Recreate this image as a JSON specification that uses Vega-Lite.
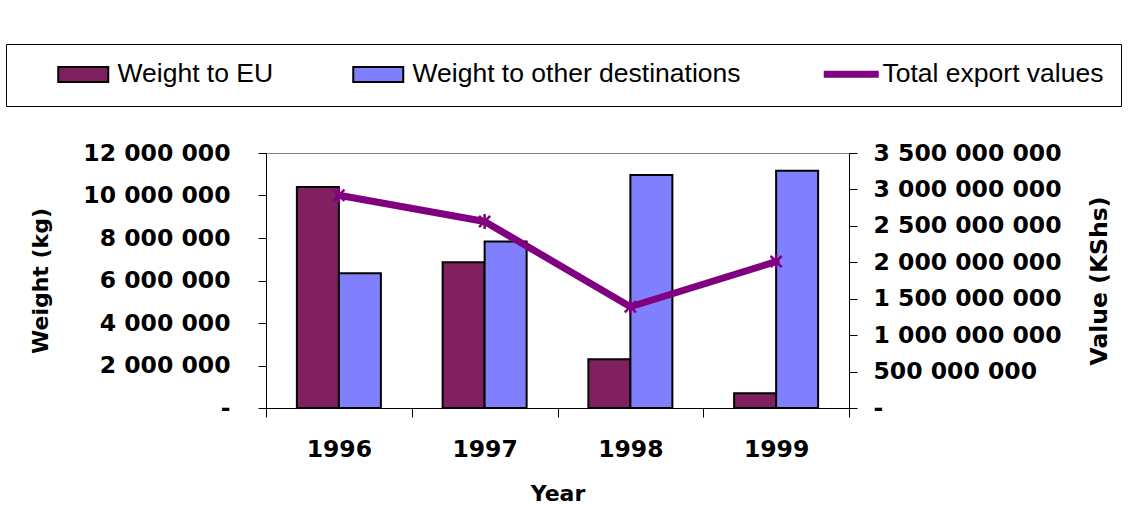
{
  "$schema": "https://vega.github.io/schema/vega-lite/v6.json",
  "width": 583,
  "height": 255,
  "autosize": {"type": "none"},
  "padding": {"left": 266, "top": 153, "right": 284, "bottom": 121},
  "background": "white",
  "datasets": {
    "weights": [
      {"year": "1996", "series": "Weight to EU", "weight": 10400000},
      {"year": "1996", "series": "Weight to other destinations", "weight": 6340000},
      {"year": "1997", "series": "Weight to EU", "weight": 6860000},
      {"year": "1997", "series": "Weight to other destinations", "weight": 7830000},
      {"year": "1998", "series": "Weight to EU", "weight": 2290000},
      {"year": "1998", "series": "Weight to other destinations", "weight": 10960000},
      {"year": "1999", "series": "Weight to EU", "weight": 690000},
      {"year": "1999", "series": "Weight to other destinations", "weight": 11170000}
    ],
    "exports": [
      {"year": "1996", "series": "Total export values", "value": 2920000000},
      {"year": "1997", "series": "Total export values", "value": 2560000000},
      {"year": "1998", "series": "Total export values", "value": 1390000000},
      {"year": "1999", "series": "Total export values", "value": 2010000000}
    ]
  },
  "layer": [
    {
      "data": {"name": "weights"},
      "mark": {"type": "bar", "stroke": "#000", "strokeWidth": 2},
      "encoding": {
        "x": {
          "field": "year", "type": "nominal",
          "scale": {"paddingInner": 0, "paddingOuter": 0},
          "axis": {
            "title": "Year", "labelAngle": 0, "tickBand": "extent", "tickSize": 9,
            "labelPadding": 20, "titlePadding": 23, "grid": false, "labelLimit": 0,
            "domainColor": "#000", "tickColor": "#000",
            "labelFont": "DejaVu Sans", "labelFontWeight": "bold", "labelFontSize": 23.5, "labelColor": "#000",
            "titleFont": "DejaVu Sans", "titleFontWeight": "bold", "titleFontSize": 22, "titleColor": "#000"
          }
        },
        "xOffset": {
          "field": "series", "type": "nominal",
          "scale": {"domain": ["Weight to EU", "Weight to other destinations"], "paddingInner": 0, "paddingOuter": 0.735}
        },
        "y": {
          "field": "weight", "type": "quantitative",
          "scale": {"domain": [0, 12000000], "nice": false},
          "axis": {
            "title": "Weight (kg)", "values": [0, 2000000, 4000000, 6000000, 8000000, 10000000, 12000000],
            "labelExpr": "datum.value == 0 ? '-\u00a0\u00a0\u00a0\u00a0' : replace(format(datum.value, ','), regexp(',', 'g'), ' ')",
            "tickSize": 8, "labelPadding": 28, "titlePadding": 30, "grid": false, "labelLimit": 0,
            "domainColor": "#000", "tickColor": "#000",
            "labelFont": "DejaVu Sans", "labelFontWeight": "bold", "labelFontSize": 23.5, "labelColor": "#000",
            "titleFont": "DejaVu Sans", "titleFontWeight": "bold", "titleFontSize": 22, "titleColor": "#000"
          }
        },
        "fill": {
          "field": "series", "type": "nominal",
          "scale": {
            "domain": ["Weight to EU", "Weight to other destinations"],
            "range": ["#802060", "#8080FF"]
          },
          "legend": {
            "orient": "none", "legendX": -260, "legendY": -109, "direction": "horizontal", "title": null,
            "padding": 17,
            "labelFont": "Liberation Sans", "labelFontSize": 26.5, "labelColor": "#000", "labelLimit": 0,
            "symbolType": "M-5,-1.5H5V1.5H-5Z", "symbolSize": 100,
            "symbolStrokeColor": "#000", "symbolStrokeWidth": 2, "symbolOpacity": 1,
            "symbolOffset": 47, "labelOffset": 21, "columnPadding": 44
          }
        }
      }
    },
    {
      "data": {"name": "exports"},
      "encoding": {
        "x": {"field": "year", "type": "nominal"},
        "y": {
          "field": "value", "type": "quantitative",
          "scale": {"domain": [0, 3500000000], "nice": false},
          "axis": {
            "orient": "right", "title": "Value (KShs)", "titleAngle": -90, "titleBaseline": "top",
            "values": [0, 500000000, 1000000000, 1500000000, 2000000000, 2500000000, 3000000000, 3500000000],
            "labelExpr": "datum.value == 0 ? '\u00a0-' : (datum.value < 1000000000 ? '\u00a0' : '') + replace(format(datum.value, ','), regexp(',', 'g'), ' ')",
            "tickSize": 8, "labelPadding": 16, "titlePadding": 38, "grid": false, "labelLimit": 0,
            "domainColor": "#000", "tickColor": "#000",
            "labelFont": "DejaVu Sans", "labelFontWeight": "bold", "labelFontSize": 23.5, "labelColor": "#000",
            "titleFont": "DejaVu Sans", "titleFontWeight": "bold", "titleFontSize": 23.5, "titleColor": "#000"
          }
        }
      },
      "layer": [
        {
          "mark": {"type": "line", "strokeWidth": 7, "strokeCap": "round", "strokeJoin": "round"},
          "encoding": {
            "stroke": {
              "field": "series", "type": "nominal",
              "scale": {"domain": ["Total export values"], "range": ["#800080"]},
              "legend": {
                "orient": "none", "legendX": -260, "legendY": -109, "title": null,
                "strokeColor": "#000", "padding": 17,
                "labelFont": "Liberation Sans", "labelFontSize": 26.5, "labelColor": "#000", "labelLimit": 0,
                "symbolType": "M-5.5,0H5.5", "symbolSize": 100, "symbolStrokeWidth": 7,
                "symbolOffset": 815, "labelOffset": 18
              }
            }
          }
        },
        {
          "mark": {
            "type": "point", "filled": false, "stroke": "#800080", "strokeWidth": 2.5, "opacity": 1,
            "shape": "M-0.75,-0.75L0.75,0.75M-0.75,0.75L0.75,-0.75M0,-1V1", "size": 220
          },
          "encoding": {}
        }
      ]
    }
  ],
  "resolve": {"scale": {"y": "independent"}},
  "config": {
    "view": {"stroke": "#808080", "strokeWidth": 1}
  }
}
